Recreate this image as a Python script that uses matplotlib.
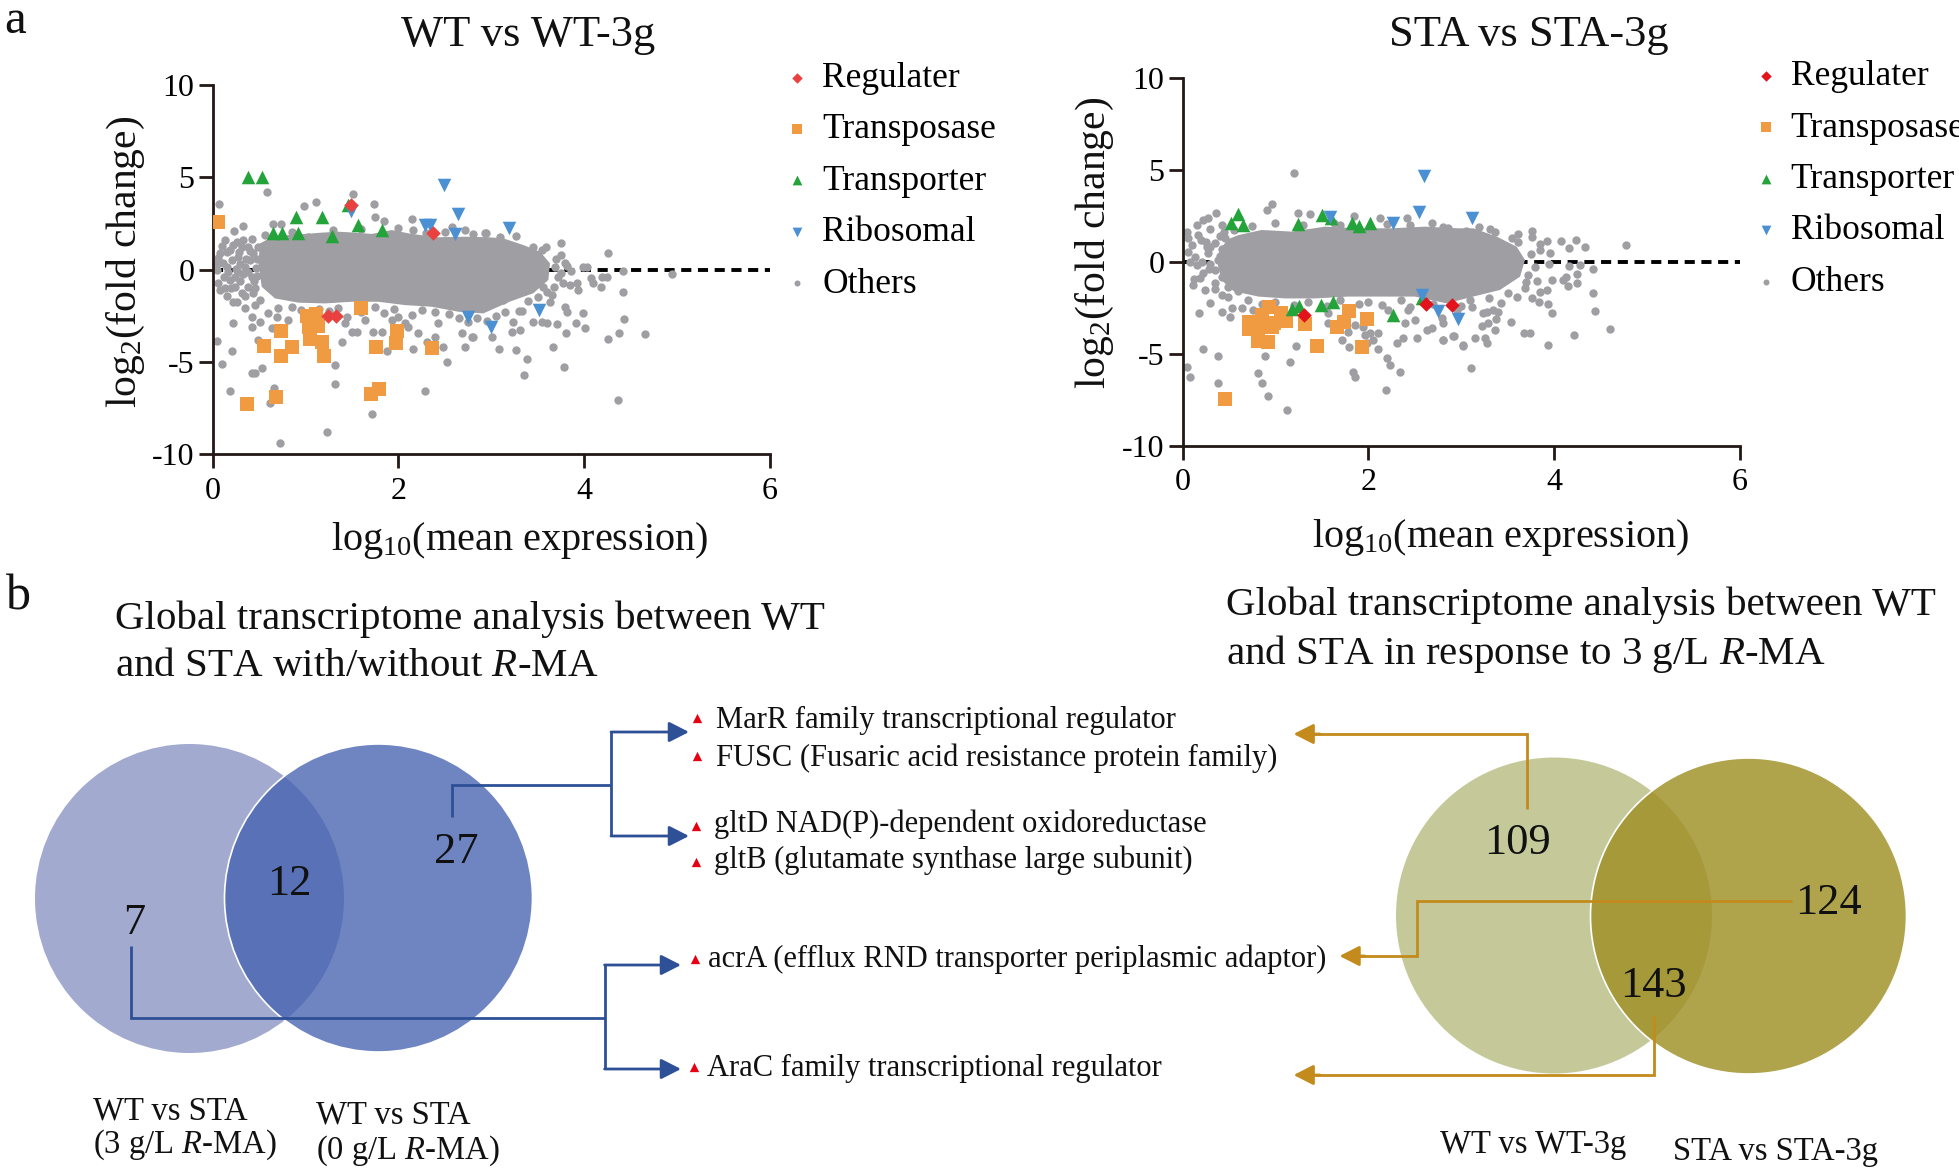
import numpy as np
import matplotlib
matplotlib.use('Agg')
import matplotlib.pyplot as plt
from matplotlib.patches import Circle, Polygon

plt.rcParams['font.family'] = ['Liberation Serif', 'DejaVu Serif']
plt.rcParams['mathtext.fontset'] = 'custom'
plt.rcParams['mathtext.rm'] = 'Liberation Serif'
plt.rcParams['mathtext.it'] = 'Liberation Serif:italic'
plt.rcParams['mathtext.bf'] = 'Liberation Serif:bold'
plt.rcParams['axes.unicode_minus'] = False

# ------------------------------------------------------------------ data
x_ticks = [0, 2, 4, 6]
y_ticks = [-10, -5, 0, 5, 10]
legend_labels = ['Regulater', 'Transposase', 'Transporter', 'Ribosomal', 'Others']

# Panel a-left : WT vs WT-3g
wt_regulator = [(1.487, 3.50), (2.377, 1.99), (1.247, -2.51), (1.329, -2.51)]
wt_transposase = [(0.062, 2.55), (1.598, -2.10), (1.013, -2.51), (1.114, -2.40), (1.038, -3.12),
                  (1.132, -3.05), (1.049, -3.76), (1.182, -3.90), (1.200, -4.68), (0.737, -3.30),
                  (0.557, -4.13), (0.859, -4.17), (0.737, -4.68), (1.756, -4.21), (1.982, -3.30),
                  (1.972, -3.95), (2.367, -4.26), (1.706, -6.73), (1.792, -6.44), (0.679, -6.87),
                  (0.367, -7.27)]
wt_transporter = [(0.378, 4.99), (0.536, 5.03), (0.895, 2.86), (0.654, 1.96), (0.744, 1.96),
                  (0.916, 2.00), (1.182, 2.85), (1.282, 1.82), (1.462, 3.50), (1.570, 2.40),
                  (1.821, 2.14)]
wt_ribosomal = [(1.487, 3.19), (2.496, 4.58), (2.288, 2.41), (2.341, 2.41), (2.639, 3.00),
                (2.611, 1.93), (2.747, -2.59), (2.998, -3.13), (3.196, 2.23), (3.519, -2.19)]
# dense centre of the "Others" cloud (outline)
wt_others_core = [(0.511, 1.42), (0.636, 1.75), (0.816, 1.87), (0.995, 1.93), (1.175, 2.00),
                  (1.354, 2.05), (1.534, 2.00), (1.713, 1.93), (1.929, 2.14), (2.144, 1.93),
                  (2.431, 1.75), (2.718, 1.78), (2.969, 1.75), (3.131, 1.69), (3.346, 1.33),
                  (3.526, 0.97), (3.634, 0.34), (3.616, -0.56), (3.454, -1.28), (3.203, -1.73),
                  (2.916, -2.37), (2.647, -2.28), (2.359, -2.01), (2.072, -1.92), (1.785, -1.74),
                  (1.498, -1.74), (1.211, -1.83), (0.924, -1.79), (0.672, -1.56), (0.529, -0.93),
                  (0.493, 0.34)]
wt_others = [
    (0.589, 4.22), (1.516, 4.09), (0.073, 3.55), (0.988, 3.46), (1.114, 3.66), (1.742, 3.55),
    (1.749, 2.83), (1.846, 2.63), (2.144, 2.76), (2.162, 2.14), (2.575, 2.32), (2.718, 2.14),
    (2.934, 1.96), (0.331, 2.36), (0.234, 2.11), (0.654, 2.47), (0.737, 2.47), (1.031, 1.75),
    (0.421, 1.64), (0.565, 1.87), (2.945, 1.96), (3.096, 1.78), (3.268, 1.84), (3.590, 1.24),
    (3.749, 1.42), (3.752, 0.79), (4.262, 0.88),
    (0.080, 0.88), (0.062, 0.61), (0.116, 0.34), (0.187, 1.06), (0.205, 0.52), (0.169, -0.11),
    (0.080, -1.10), (0.134, -1.01), (0.241, -0.38), (0.277, -0.11), (0.349, 0.16), (0.385, 1.24),
    (0.439, 0.88), (0.421, -0.38), (0.457, -1.01), (0.385, -0.92), (0.313, -1.28), (0.259, -1.73),
    (0.223, -1.73), (0.349, -2.10), (0.457, -1.92), (0.277, 0.70), (0.331, 1.60), (0.134, 1.60),
    (0.044, -0.02), (0.151, 0.97), (0.313, 1.24), (0.241, -0.92), (0.187, -0.56), (0.493, 1.24),
    (0.511, -1.64), (0.40, 0.50), (0.45, -0.60), (0.30, 0.30), (0.47, 0.10),
    (0.10, 1.30), (0.22, 1.35), (0.28, 0.95), (0.36, 0.55), (0.15, 0.15), (0.25, 0.05),
    (0.38, -0.15), (0.12, -0.40), (0.30, -0.60), (0.20, -1.00), (0.35, -1.45), (0.43, -1.25),
    (0.16, -1.45), (0.06, -0.70), (0.05, 0.30), (0.40, 1.00), (0.48, 0.60), (0.48, -0.35),
    (0.33, -0.25), (0.26, 1.50),
    (0.421, -2.55), (0.511, -2.82), (0.421, -3.09), (0.223, -2.91), (0.044, -3.85), (0.205, -4.39),
    (0.105, -5.11), (0.421, -5.58), (0.457, -5.58), (0.536, -5.34), (0.636, -3.18), (0.493, -3.81),
    (0.665, -6.43), (0.618, -7.20), (0.187, -6.55), (1.229, -8.77), (0.726, -9.40), (1.318, -5.16),
    (1.318, -6.21), (1.720, -7.81), (2.288, -6.57), (1.390, -3.90), (1.498, -3.36), (1.552, -3.36),
    (1.731, -3.40), (1.875, -4.39), (1.821, -3.36), (2.108, -3.09), (2.162, -4.28), (2.485, -4.21),
    (2.521, -4.98), (2.216, -3.45), (2.306, -3.90), (2.395, -3.63), (2.718, -4.17), (2.790, -3.63),
    (2.683, -3.45), (1.430, -2.91), (1.641, -2.73), (1.929, -2.73), (2.072, -2.91), (2.431, -2.91),
    (0.816, -2.73), (0.690, -2.55), (0.852, -2.01), (0.600, -2.37),
    (0.95, -2.20), (1.15, -2.15), (1.35, -2.10), (1.75, -2.05), (1.95, -2.15), (2.25, -2.20),
    (2.55, -2.40), (2.85, -2.60), (2.95, -2.80),
    (0.70, -2.10), (1.05, -2.30), (1.25, -2.25), (1.60, -2.30), (1.85, -2.35), (2.15, -2.45),
    (2.40, -2.30), (2.65, -2.60), (2.75, -2.85), (3.05, -2.50), (1.45, -2.55), (2.00, -2.55),
    (0.85, 2.05), (1.30, 2.15), (1.60, 2.20), (2.00, 2.25), (2.30, 2.00), (2.50, 2.05), (2.80, 1.95),
    (3.70, 0.55), (3.80, 0.35), (3.86, -0.10), (3.75, -0.20), (3.68, -0.95), (3.60, -1.20),
    (3.50, -1.50), (3.40, -1.70), (3.55, 1.05), (3.45, 1.25),
    (4.416, -0.06), (4.944, -0.26), (3.724, -0.38), (3.777, -0.74), (3.849, -0.83), (3.921, -0.74),
    (3.939, -1.10), (4.072, -0.47), (4.101, -0.74), (4.190, -0.38), (4.244, -0.38), (4.179, -0.92),
    (4.416, -1.23), (4.431, -2.67), (4.381, -3.45), (4.262, -3.77), (4.654, -3.50), (4.011, -3.18),
    (3.914, -2.91), (3.993, -2.33), (3.806, -3.45), (3.706, -2.94), (3.597, -2.91), (3.544, -2.82),
    (3.447, -2.82), (3.670, -4.21), (3.788, -5.25), (3.383, -4.86), (3.358, -5.70), (3.268, -4.35),
    (3.088, -4.28), (3.221, -3.40), (3.311, -3.27), (3.239, -2.82), (3.304, -2.24), (3.329, -2.24),
    (3.149, -2.31), (3.131, -1.64), (3.006, -3.63), (4.363, -7.06), (3.634, -1.73), (3.652, -1.37),
    (3.795, -2.01), (3.813, -2.28), (2.808, -3.63), (3.821, 0.21), (3.993, 0.16), (4.036, 0.16),
    (3.688, 0.16), (3.490, -0.02), (3.562, -0.92), (3.418, -0.38)]

# Panel a-right : STA vs STA-3g
sta_regulator = [(1.311, -2.89), (2.618, -2.29), (2.905, -2.35)]
sta_transposase = [(0.715, -3.27), (0.715, -3.63), (0.834, -3.52), (0.859, -2.89), (0.930, -2.48),
                   (0.988, -3.34), (1.060, -2.80), (1.110, -3.20), (0.967, -3.56), (0.816, -4.29),
                   (0.923, -4.34), (1.318, -3.38), (1.444, -4.58), (1.659, -3.56), (1.742, -3.25),
                   (1.792, -2.66), (1.982, -3.13), (1.935, -4.65), (0.457, -7.47)]
sta_transporter = [(0.521, 2.09), (0.600, 2.60), (0.647, 2.00), (1.247, 2.06), (1.498, 2.54),
                   (1.598, 2.36), (1.821, 2.13), (1.900, 1.95), (2.018, 2.09), (1.175, -2.58),
                   (1.254, -2.40), (1.491, -2.35), (1.624, -2.17), (2.270, -2.89), (2.575, -1.99)]
sta_ribosomal = [(2.604, 4.66), (2.546, 2.73), (2.270, 2.13), (1.588, 2.42), (2.747, -2.66),
                 (2.963, -3.13), (2.575, -1.80), (3.120, 2.36)]
sta_others_core = [(0.50, 1.25), (0.600, 1.45), (0.852, 1.73), (1.175, 1.64), (1.534, 1.91),
                   (1.893, 1.82), (2.252, 1.82), (2.611, 1.91), (2.970, 1.82), (3.131, 1.82),
                   (3.383, 1.37), (3.598, 0.82), (3.688, 0.10), (3.634, -0.81), (3.418, -1.53),
                   (3.131, -1.89), (2.844, -2.26), (2.503, -1.89), (2.144, -1.89), (1.785, -1.89),
                   (1.426, -1.99), (1.104, -1.99), (0.816, -1.89), (0.55, -1.60), (0.42, -1.00),
                   (0.38, -0.20), (0.40, 0.70)]
sta_others = [
    (1.200, 4.81), (0.959, 3.12), (0.905, 2.82), (0.356, 2.67), (0.277, 2.36), (0.223, 2.27),
    (0.152, 2.00), (0.421, 2.00), (1.239, 2.63), (1.372, 2.60), (1.634, 2.09), (1.846, 2.49),
    (2.126, 2.36), (2.414, 2.36), (2.683, 2.09), (2.862, 1.82), (0.044, 1.64), (0.062, 1.28),
    (0.169, 1.46), (0.259, 0.82), (0.349, 1.00), (0.457, 1.28), (0.062, 0.55), (0.134, 0.28),
    (0.205, 0.01), (0.277, 0.46), (0.385, 0.10), (0.457, -0.26), (0.349, -0.45), (0.187, -0.90),
    (0.116, -1.26), (0.241, -1.53), (0.349, -1.17), (0.421, -0.81), (0.493, -1.35),
    (0.50, 0.40), (0.42, 0.70), (0.30, -0.10), (0.52, -0.70), (0.25, 1.10), (0.45, 1.60),
    (0.10, 0.90), (0.20, 1.20), (0.30, 0.80), (0.40, 0.30), (0.15, -0.20), (0.28, -0.40),
    (0.45, -0.55), (0.22, -0.60), (0.35, -1.50), (0.50, -1.10), (0.08, 0.00), (0.55, 0.90),
    (0.55, -0.20), (0.40, 1.40), (0.12, -0.95), (0.30, 1.80), (0.55, 1.75), (0.60, -1.60),
    (0.295, -2.26), (0.421, -1.80), (0.493, -1.89), (0.529, -2.53), (0.421, -2.71), (0.177, -2.80),
    (0.511, -2.98), (0.636, -2.53), (0.216, -4.76), (0.385, -5.12), (0.044, -5.70), (0.080, -6.24),
    (0.378, -6.57), (0.816, -6.06), (0.859, -6.60), (0.916, -7.29), (1.128, -8.05), (0.888, -5.12),
    (1.157, -5.43), (1.218, -4.58), (1.839, -5.97), (1.857, -6.24), (2.187, -6.97), (2.198, -5.25),
    (2.234, -5.61), (2.345, -5.97), (1.713, -4.25), (1.792, -4.61), (1.982, -4.43), (2.018, -3.89),
    (2.108, -3.89), (2.108, -4.76), (2.054, -4.25), (1.785, -3.80), (1.857, -3.43), (1.947, -3.53),
    (1.570, -2.80), (2.306, -4.43), (2.378, -4.16), (2.521, -4.16), (2.395, -3.34), (2.503, -3.16),
    (2.629, -3.71), (2.683, -3.62), (2.808, -4.25), (2.916, -4.03), (3.024, -4.52), (2.790, -3.07),
    (2.216, -2.62), (2.431, -2.62), (0.762, -2.62), (1.570, -3.34), (1.965, -3.98),
    (0.70, -2.10), (1.00, -2.20), (1.35, -2.20), (1.70, -2.10), (2.00, -2.20), (2.35, -2.10),
    (2.70, -2.30), (3.00, -2.40),
    (0.85, -2.30), (1.20, -2.35), (1.55, -2.40), (1.90, -2.30), (2.15, -2.35), (2.45, -2.45),
    (2.95, -2.60), (3.10, -2.10),
    (0.75, 1.95), (1.00, 2.10), (1.30, 2.00), (1.70, 2.00), (2.20, 2.05), (2.45, 2.00), (2.80, 1.90),
    (3.75, 0.40), (3.80, -0.30), (3.70, -1.10), (3.50, -1.70), (3.30, -1.95), (3.55, 1.30),
    (3.85, 0.95), (3.95, -0.10),
    (3.196, 1.91), (3.311, 1.77), (3.365, 1.64), (3.052, 1.69), (3.616, 1.51), (3.759, 1.69),
    (3.759, 1.33), (3.616, 1.10), (3.928, 1.15), (4.072, 1.15), (4.237, 1.18), (4.165, 0.73),
    (4.338, 0.78), (4.776, 0.91), (3.849, 0.64), (3.957, 0.46), (4.165, -0.24), (4.280, -0.17),
    (4.416, -0.41), (4.244, -0.66), (4.129, -0.81), (4.094, -0.99), (4.155, -1.31), (4.251, -1.17),
    (3.975, -0.99), (3.821, -1.03), (3.928, -1.53), (3.849, -1.62), (3.759, -1.99), (3.688, -1.44),
    (3.598, -1.89), (3.724, -0.72), (4.424, -1.71), (4.445, -2.66), (4.600, -3.66), (4.216, -3.98),
    (3.932, -4.52), (3.838, -2.21), (3.939, -2.32), (3.978, -2.77), (3.534, -3.27), (3.681, -3.85),
    (3.742, -3.85), (3.429, -2.22), (3.372, -3.13), (3.400, -2.71), (3.346, -2.62), (3.275, -2.71),
    (3.293, -3.34), (3.221, -3.49), (3.239, -2.80), (3.365, -3.71), (3.257, -4.16), (3.275, -4.40),
    (3.146, -4.16), (3.023, -4.58), (2.923, -4.03), (2.808, -4.25), (3.106, -5.75), (3.113, -2.44),
    (2.808, -3.34)]

# Panel b : Venn counts and gene annotations
venn_left_counts = [7, 12, 27]
venn_left_sets = [('WT vs STA', '(3 g/L $R$-MA)'), ('WT vs STA', '(0 g/L $R$-MA)')]
venn_right_counts = [109, 143, 124]
venn_right_sets = ['WT vs WT-3g', 'STA vs STA-3g']
genes = ['MarR family transcriptional regulator',
         'FUSC (Fusaric acid resistance protein family)',
         'gltD NAD(P)-dependent oxidoreductase',
         'gltB (glutamate synthase large subunit)',
         'acrA (efflux RND transporter periplasmic adaptor)',
         'AraC family transcriptional regulator']

# ------------------------------------------------------------------ styles
GRAY = '#9E9EA3'
ORANGE = '#F09B41'
GREEN = '#23A33A'
BLUE = '#4B90D3'
SPINE = '#231815'
W, H = 1959, 1174

fig = plt.figure(figsize=(W / 100, H / 100), dpi=100)


def px_axes(l, t, r, b, **kw):
    return fig.add_axes([l / W, 1 - b / H, (r - l) / W, (b - t) / H], **kw)


def draw_ma(ax, core, others, reg, trans, tport, ribo, red, leg_anchor):
    ax.set_xlim(0, 6)
    ax.set_ylim(-10, 10)
    ax.axhline(0, color='black', lw=2.8, ls=(0, (2.6, 1.7)), zorder=1)
    ax.add_patch(Polygon(np.array(core), closed=True, fc=GRAY, ec='none', zorder=2))
    o = np.array(others)
    h_oth = ax.scatter(o[:, 0], o[:, 1], s=36, c=GRAY, lw=0, zorder=2)
    t = np.array(trans)
    h_tra = ax.scatter(t[:, 0], t[:, 1], s=90, marker='s', c=ORANGE, lw=0, zorder=3)
    g = np.array(tport)
    h_tpo = ax.scatter(g[:, 0], g[:, 1], s=95, marker='^', c=GREEN, lw=0, zorder=3)
    b = np.array(ribo)
    h_rib = ax.scatter(b[:, 0], b[:, 1], s=95, marker='v', c=BLUE, lw=0, zorder=3)
    r = np.array(reg)
    h_reg = ax.scatter(r[:, 0], r[:, 1], s=55, marker='D', c=red, lw=0, zorder=4)
    for s in ['top', 'right']:
        ax.spines[s].set_visible(False)
    for s in ['left', 'bottom']:
        ax.spines[s].set_linewidth(2.0)
        ax.spines[s].set_color(SPINE)
    ax.set_xticks(x_ticks)
    ax.set_yticks(y_ticks)
    ax.tick_params(direction='out', length=10, width=2.0, color=SPINE, labelsize=23)
    ax.tick_params(axis='x', pad=6)
    ax.tick_params(axis='y', pad=3)
    ax.patch.set_alpha(0)
    ax.legend([h_reg, h_tra, h_tpo, h_rib, h_oth], legend_labels, loc='upper left',
              bbox_to_anchor=leg_anchor, frameon=False, fontsize=25.5, handlelength=0.5,
              handletextpad=0.45, labelspacing=0.52, borderpad=0, borderaxespad=0,
              markerscale=0.72, scatterpoints=1)


ax1 = px_axes(212.6, 84.8, 769.7, 454.4)
draw_ma(ax1, wt_others_core, wt_others, wt_regulator, wt_transposase, wt_transporter,
        wt_ribosomal, '#E8413F', (1.034, 1.062))
ax2 = px_axes(1182.6, 77.8, 1739.7, 445.8)
draw_ma(ax2, sta_others_core, sta_others, sta_regulator, sta_transposase, sta_transporter,
        sta_ribosomal, '#E3131B', (1.031, 1.048))

# ------------------------------------------------------------------ overlay in pixel units
ov = fig.add_axes([0, 0, 1, 1], zorder=5)
ov.set_xlim(0, W)
ov.set_ylim(H, 0)
ov.axis('off')


def T(x, y, s, size, **kw):
    kw.setdefault('va', 'baseline')
    ov.text(x, y, s, fontsize=size, color='#111111', **kw)


T(4, 33, 'a', 35)
T(6, 609, 'b', 36)
T(528, 46, 'WT vs WT-3g', 32, ha='center')
T(1529, 46, 'STA vs STA-3g', 32, ha='center')
T(126, 262, r'log$_{\mathregular{2}}$(fold change)', 30, ha='center', va='center', rotation=90)
T(1095, 243, r'log$_{\mathregular{2}}$(fold change)', 30, ha='center', va='center', rotation=90)
T(520, 550, r'log$_{\mathregular{10}}$(mean expression)', 29, ha='center')
T(1501, 547, r'log$_{\mathregular{10}}$(mean expression)', 29, ha='center')

T(115, 628.5, 'Global transcriptome analysis between WT', 29.5)
T(115, 675.5, 'and STA with/without $R$-MA', 29.5)
T(1226, 615, 'Global transcriptome analysis between WT', 29.5)
T(1226, 664, 'and STA in response to 3 g/L $R$-MA', 29.5)

# Venn left
ov.add_patch(Circle((189.5, 898.5), 154.5, fc='#A3AACF', ec='none', zorder=1))
ov.add_patch(Circle((378.5, 898), 154, fc='#4563B1', alpha=0.78, ec='none', zorder=2))
ov.add_patch(Circle((378.5, 898), 154, fill=False, ec='white', lw=1.2, zorder=2))
# Venn right
ov.add_patch(Circle((1554, 915.5), 158, fc='#C5C99A', ec='none', zorder=1))
ov.add_patch(Circle((1748.5, 916), 158, fc='#9F9027', alpha=0.83, ec='none', zorder=2))
ov.add_patch(Circle((1748.5, 916), 158, fill=False, ec='white', lw=1.2, zorder=2))

for (x, y), c in zip([(134.5, 934), (289, 895), (456.5, 863)], venn_left_counts):
    T(x, y, str(c), 32, ha='center', zorder=4)
for (x, y), c in zip([(1518, 853.6), (1653, 996.6), (1828.5, 914)], venn_right_counts):
    T(x, y, str(c), 32, ha='center', zorder=4)

T(93, 1119, venn_left_sets[0][0], 23.5)
T(93, 1153, venn_left_sets[0][1], 23.5)
T(316, 1123, venn_left_sets[1][0], 23.5)
T(316, 1159, venn_left_sets[1][1], 23.5)
T(1533, 1153, venn_right_sets[0], 23.5, ha='center')
T(1775.5, 1160, venn_right_sets[1], 23.5, ha='center')

# connectors
DB = '#2E5096'
GD = '#C28B1C'
LW = 2.0


def path(xs, ys, c):
    ov.plot(xs, ys, color=c, lw=LW, solid_capstyle='butt', solid_joinstyle='miter', zorder=3)


def arrow(x0, y, x1, c):
    ov.annotate('', xy=(x1, y), xytext=(x0, y), zorder=3,
                arrowprops=dict(arrowstyle='-|>,head_length=0.55,head_width=0.28', color=c,
                                lw=LW, shrinkA=0, shrinkB=0, mutation_scale=22))


path([451.5, 451.5, 611], [816.5, 785, 785], DB)
path([611, 611], [732, 836], DB)
arrow(611, 732, 689, DB)
arrow(611, 836, 689, DB)
path([130.7, 130.7, 604.6], [945.7, 1018, 1018], DB)
path([604.6, 604.6], [965, 1069], DB)
arrow(604.6, 965, 681, DB)
arrow(604.6, 1069, 681, DB)

path([1527, 1527, 1310], [808.6, 734, 734], GD)
arrow(1320, 734, 1293.6, GD)
path([1792, 1417, 1417, 1355], [900.6, 900.6, 956, 956], GD)
arrow(1365, 956, 1339.5, GD)
path([1654.4, 1654.4, 1310], [1016, 1075, 1075], GD)
arrow(1320, 1075, 1293.6, GD)

# gene list
gx = [716, 716, 713.5, 713.5, 708, 706.6]
gy = [728, 766, 832, 868, 967, 1076]
tx = [697, 697, 695.5, 695.5, 695, 694]
ty = [718, 756, 826, 861.7, 959, 1066.7]
ov.scatter(tx, ty, marker='^', s=45, c='#E60012', lw=0, zorder=4)
for x, y, g in zip(gx, gy, genes):
    T(x, y, g, 22)

fig.savefig('out.png', dpi=100)
